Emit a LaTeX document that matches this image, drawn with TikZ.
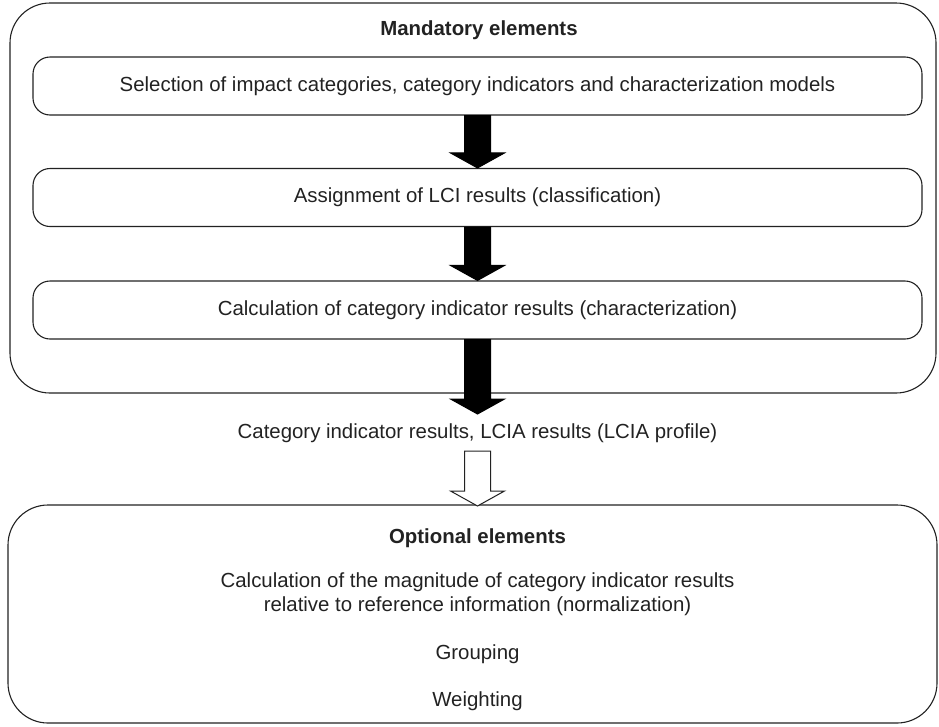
\documentclass[tikz,border=0pt]{standalone}
\usepackage{fontspec}
\setmainfont{Liberation Sans}
\usetikzlibrary{calc}
\definecolor{ink}{HTML}{222222}
\begin{document}
\begin{tikzpicture}[x=1pt,y=-1pt,
  outerbox/.style={draw=ink,line width=1.1pt,rounded corners=40pt},
  stepbox/.style={draw=ink,line width=1.1pt,rounded corners=17pt,minimum width=889pt,minimum height=58pt,inner sep=0pt,font=\fontsize{20.4}{24.5}\selectfont,text=ink},
  label/.style={font=\fontsize{20.4}{24.5}\selectfont,text=ink,inner sep=0pt},
  title/.style={font=\fontsize{20.4}{24.5}\selectfont\bfseries,text=ink,inner sep=0pt}]
\useasboundingbox (0,0) rectangle (939,726);
% outer boxes
\draw[outerbox] (10,3) rectangle (936,393);
\draw[outerbox] (8,505) rectangle (937,723);
\node[title] (mand) at (479,30) {Mandatory elements};
\node[stepbox] (b1) at (477.5,86) {Selection of impact categories, category indicators and characterization models};
\node[stepbox] (b2) at (477.5,197.5) {Assignment of LCI results (classification)};
\node[stepbox] (b3) at (477.5,310) {Calculation of category indicator results (characterization)};
\coordinate (tip3) at (477.5,414);
\node[label] (res) at (477.5,433) {Category indicator results, LCIA results (LCIA profile)};
\coordinate (wtop) at (477.5,451);
\coordinate (opt) at (477.5,506);
\node[title] (optt) at (477.5,538) {Optional elements};
\node[label,align=center] (norm) at (477.5,594) {Calculation of the magnitude of category indicator results\\relative to reference information (normalization)};
\node[label] (grp) at (477.5,654) {Grouping};
\node[label] (wgt) at (477.5,701) {Weighting};
% block arrows
\newcommand\blockarrow[3]{%
  \draw[#3,line width=1pt,line join=miter]
    ($(#1)+(-13,0)$) -- ($(#2)+(-13,-15)$) -- ($(#2)+(-27,-15)$) -- (#2)
    -- ($(#2)+(27,-15)$) -- ($(#2)+(13,-15)$) -- ($(#1)+(13,0)$) -- cycle;}
\blockarrow{b1.south}{b2.north}{fill=black,draw=black}
\blockarrow{b2.south}{b3.north}{fill=black,draw=black}
\blockarrow{b3.south}{tip3}{fill=black,draw=black}
\blockarrow{wtop}{opt}{fill=white,draw=ink}
\end{tikzpicture}
\end{document}
